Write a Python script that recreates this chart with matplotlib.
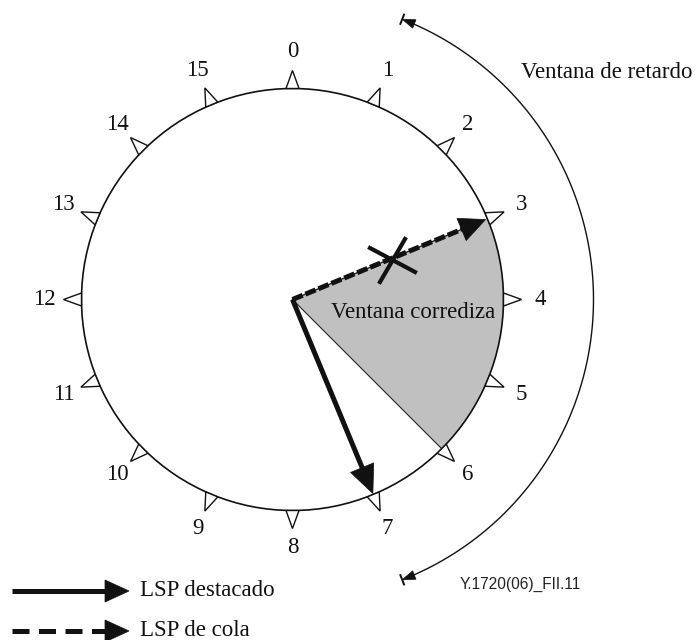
import numpy as np
import matplotlib
matplotlib.use("Agg")
import matplotlib.pyplot as plt
from matplotlib.patches import Polygon, Circle

# --- datos del diagrama ---
slot_labels = [str(i) for i in range(16)]       # posiciones del reloj 0..15
sliding_window = (3, 6)                          # ventana corrediza (slots)
lsp_head = 7                                     # LSP destacado apunta aqui
lsp_tail = 3                                     # LSP de cola apunta aqui
delay_window = (0.95, 7.05)                      # ventana de retardo (slots)
legend_labels = ["LSP destacado", "LSP de cola"]
window_label = "Ventana corrediza"
delay_label = "Ventana de retardo"
fig_code = "Y.1720(06)_FII.11"

cx, cy, R = 292.5, 299.5, 211.0
R_lbl = 248.0
R_delay = 301.0
SERIF = "Liberation Serif"
FS = 16.5


def ang(slot):
    return np.deg2rad(slot * 360.0 / len(slot_labels))


def pt(slot, r):
    a = ang(slot)
    return np.array([cx + r * np.sin(a), cy - r * np.cos(a)])


def arrow(ax, p0, p1, lw, hl, hw, dashes=None, thin=False):
    p0, p1 = np.array(p0), np.array(p1)
    d = (p1 - p0) / np.linalg.norm(p1 - p0)
    n = np.array([-d[1], d[0]])
    base = p1 - d * hl
    if thin:
        ax.plot([p0[0], base[0]], [p0[1], base[1]], color="#222", lw=1.0, zorder=4)
    ls = "-" if dashes is None else (0, dashes)
    ax.plot([p0[0], base[0] + d[0] * 2], [p0[1], base[1] + d[1] * 2],
            color="#111", lw=lw, linestyle=ls, solid_capstyle="butt",
            dash_capstyle="butt", zorder=5)
    ax.add_patch(Polygon([p1, base + n * hw, base - n * hw], closed=True,
                         facecolor="#111", edgecolor="#111", lw=0.5, zorder=6))


fig = plt.figure(figsize=(6.98, 6.40), dpi=100)
ax = fig.add_axes([0, 0, 1, 1])
ax.set_xlim(0, 698)
ax.set_ylim(640, 0)
ax.set_aspect("equal")
ax.axis("off")

# sector sombreado (ventana corrediza)
s = np.linspace(sliding_window[0], sliding_window[1], 60)
arc = np.array([pt(k, R) for k in s])
sector = np.vstack([[cx, cy], arc])
ax.add_patch(Polygon(sector, closed=True, facecolor="#c0c0c0", edgecolor="none", zorder=1))
p6 = pt(sliding_window[1], R)
ax.plot([cx, p6[0]], [cy, p6[1]], color="#222", lw=0.8, zorder=2)

# circulo
ax.add_patch(Circle((cx, cy), R, fill=False, edgecolor="#111", lw=1.2, zorder=3))

# triangulos y etiquetas
for k, lab in enumerate(slot_labels):
    a = ang(k)
    t = np.array([np.cos(a), np.sin(a)])
    c0 = pt(k, R)
    tri = [c0 - 6.5 * t, c0 + 6.5 * t, pt(k, R + 18)]
    ax.add_patch(Polygon(tri, closed=True, facecolor="white", edgecolor="#111",
                         lw=1.0, zorder=3))
    lp = pt(k, R_lbl)
    ax.text(lp[0], lp[1], lab, ha="center", va="center", fontsize=FS,
            family=SERIF, color="#111")

# flechas LSP
arrow(ax, (cx, cy), pt(lsp_head, R - 1), lw=3.6, hl=28, hw=12.5)
arrow(ax, (cx, cy), pt(lsp_tail, R - 2), lw=3.6, hl=26, hw=12, dashes=(2.2, 0.6), thin=True)

# marca X sobre el LSP de cola
ax.plot([370, 415], [248, 272], color="#111", lw=3.0, zorder=7)
ax.plot([405, 380], [239, 282], color="#111", lw=3.0, zorder=7)

ax.text(413, 312, window_label, ha="center", va="center", fontsize=FS,
        family=SERIF, color="#111", zorder=8)

# ventana de retardo
s = np.linspace(delay_window[0], delay_window[1], 200)
darc = np.array([pt(k, R_delay) for k in s])
ax.plot(darc[3:-3, 0], darc[3:-3, 1], color="#111", lw=1.0)
for k, sgn in [(delay_window[0], -1), (delay_window[1], 1)]:
    a = ang(k)
    t = np.array([np.cos(a), np.sin(a)]) * sgn
    u = np.array([np.sin(a), -np.cos(a)])
    tip = pt(k, R_delay)
    base = tip - 13 * t
    ax.add_patch(Polygon([tip, base + 4.5 * u, base - 4.5 * u], closed=True,
                         facecolor="#111", edgecolor="#111", lw=0.5))
    ax.plot([tip[0] - 5 * u[0], tip[0] + 5 * u[0]],
            [tip[1] - 5 * u[1], tip[1] + 5 * u[1]], color="#111", lw=1.4)
ax.text(607, 73, delay_label, ha="center", va="center", fontsize=FS,
        family=SERIF, color="#111")

ax.text(520, 584, fig_code, ha="center", va="center", fontsize=11.2,
        family="Liberation Sans", color="#222")

# leyenda
arrow(ax, (12, 591), (129, 591), lw=3.6, hl=24, hw=11)
arrow(ax, (12, 631), (129, 631), lw=3.6, hl=24, hw=11, dashes=(3.4, 1.9))
ax.text(140, 591, legend_labels[0], ha="left", va="center", fontsize=FS,
        family=SERIF, color="#111")
ax.text(140, 631, legend_labels[1], ha="left", va="center", fontsize=FS,
        family=SERIF, color="#111")

fig.savefig("out.png", dpi=100)
